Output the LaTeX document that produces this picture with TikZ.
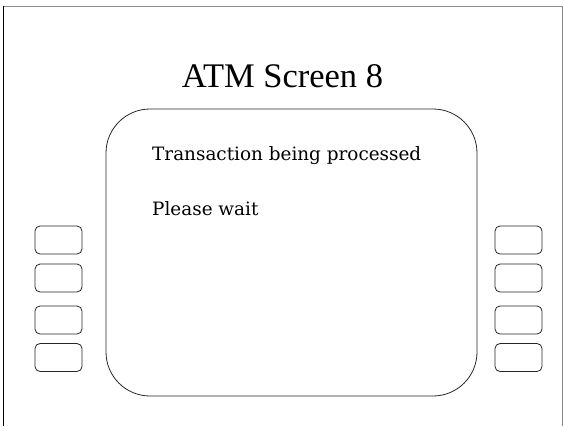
\documentclass[tikz,border=0pt]{standalone}
\usepackage{fontspec}
\setmainfont{Liberation Serif}
\newfontfamily\screenfont{DejaVu Serif}
\begin{document}
\begin{tikzpicture}[x=1pt,y=-1pt,
  framel/.style={line width=1pt},
  btn/.style={draw=black!85, line width=0.8pt, rounded corners=5pt, minimum width=47pt, minimum height=28pt, inner sep=0pt},
  scr/.style={draw=black!85, line width=0.8pt, rounded corners=44pt, minimum width=371pt, minimum height=287pt, inner sep=0pt},
  msg/.style={anchor=base west, inner sep=0pt, font=\screenfont\fontsize{18.4}{22}\selectfont}
]
\useasboundingbox (0,0) rectangle (564,426);
\draw[framel, black!45] (3,6) -- (562,6);
\draw[framel, black] (3,6) -- (3,426);
\draw[framel, black!45] (562,6) -- (562,426);
\node[anchor=base, inner sep=0pt, font=\fontsize{34.5}{40}\selectfont] (title) at (282.5,87) {ATM Screen 8};
\node[scr] (screen) at (291.5,252.5) {};
\node[msg] (line1) at (152,160) {Transaction being processed};
\node[msg] (line2) at (152,215) {Please wait};
\node[btn] (l1) at (58.5,240) {};
\node[btn] (l2) at (58.5,278) {};
\node[btn] (l3) at (58.5,320) {};
\node[btn] (l4) at (58.5,357.5) {};
\node[btn] (r1) at (518.5,240) {};
\node[btn] (r2) at (518.5,278) {};
\node[btn] (r3) at (518.5,320) {};
\node[btn] (r4) at (518.5,357.5) {};
\end{tikzpicture}
\end{document}
